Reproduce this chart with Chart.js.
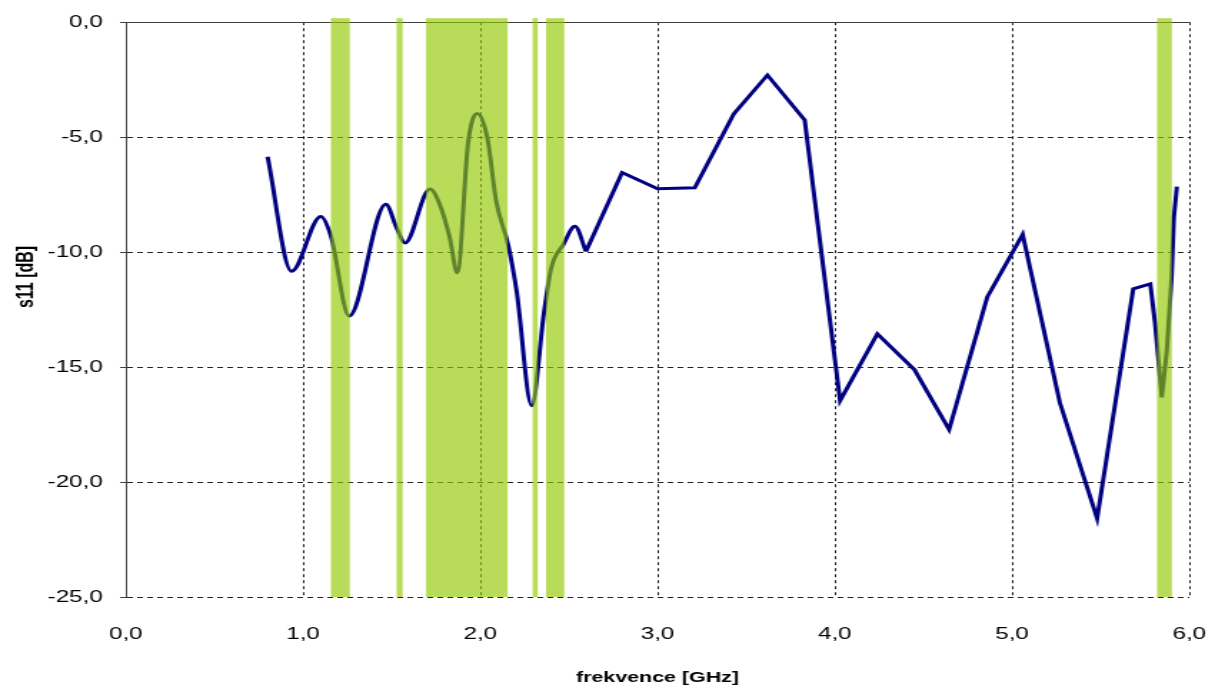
<!DOCTYPE html>
<html>
<head>
<meta charset="utf-8">
<title>s11</title>
<script src="https://cdn.jsdelivr.net/npm/chart.js@4.4.1/dist/chart.umd.min.js"></script>
<style>
  html, body { margin: 0; padding: 0; background: #fff; }
  #chart { display: block; }
</style>
</head>
<body>
<!-- the reference picture is stretched sideways, so the canvas is drawn narrow and widened by css -->
<canvas id="chart" width="850" height="693" style="width:1215px;height:693px"></canvas>
<script>
// smooth part of the measured curve (GHz / dB)
const smoothFreq = [0.80, 0.935, 1.10, 1.157, 1.26, 1.467, 1.528, 1.575, 1.716, 1.772, 1.828, 1.87, 1.932, 1.983, 2.04, 2.09, 2.157, 2.205, 2.29, 2.36, 2.40, 2.47, 2.534, 2.596];
const smoothS11 = [-5.85, -10.83, -8.45, -9.3, -12.78, -7.92, -8.95, -9.6, -7.25, -7.94, -9.39, -10.9, -5.2, -3.97, -5.05, -7.8, -9.68, -11.7, -16.68, -12.6, -10.7, -9.65, -8.88, -9.97];

// coarse part, straight segments
const coarseFreq = [2.596, 2.80, 3.00, 3.21, 3.43, 3.62, 3.83, 4.03, 4.24, 4.45, 4.645, 4.86, 5.06, 5.27, 5.48, 5.684, 5.78, 5.807, 5.845, 5.873, 5.90, 5.913, 5.93];
const coarseS11 = [-9.97, -6.54, -7.24, -7.2, -3.99, -2.30, -4.25, -16.46, -13.56, -15.12, -17.72, -11.96, -9.23, -16.55, -21.58, -11.6, -11.38, -13.1, -16.32, -14.3, -11.1, -8.5, -7.15];

// highlighted frequency bands (GHz)
const bandStart = [1.157, 1.528, 1.693, 2.295, 2.371, 5.818];
const bandEnd = [1.264, 1.562, 2.154, 2.324, 2.474, 5.902];

const xTitle = 'frekvence [GHz]';
const yTitle = 's11 [dB]';

const FONT = "'Liberation Sans', Arial, sans-serif";
const fmt = (v) => Number(v).toFixed(1).replace('.', ',');
const toXY = (xs, ys) => xs.map((x, i) => ({ x, y: ys[i] }));

// green bands over the curve
const bandsPlugin = {
  id: 'bands',
  afterDatasetsDraw(chart) {
    const { ctx, chartArea, scales: { x } } = chart;
    ctx.save();
    ctx.fillStyle = 'rgba(146, 201, 0, 0.65)';
    bandStart.forEach((s, i) => {
      const x1 = x.getPixelForValue(s);
      const x2 = x.getPixelForValue(bandEnd[i]);
      ctx.fillRect(x1, chartArea.top - 4, x2 - x1, chartArea.bottom - chartArea.top + 4);
    });
    ctx.restore();
  }
};

// y title sits a bit above the middle in the reference
const yTitlePlugin = {
  id: 'yTitle',
  afterDraw(chart) {
    const { ctx } = chart;
    ctx.save();
    ctx.translate(19, 277);
    ctx.rotate(-Math.PI / 2);
    ctx.font = `bold 16px ${FONT}`;
    ctx.fillStyle = '#000';
    ctx.textAlign = 'center';
    ctx.textBaseline = 'middle';
    ctx.fillText(yTitle, 0, 0);
    ctx.restore();
  }
};

const line = {
  borderColor: '#000080',
  borderWidth: 3,
  pointRadius: 0,
  fill: false
};

const canvas = document.getElementById('chart');
new Chart(canvas, {
  type: 'line',
  data: {
    datasets: [
      { ...line, data: toXY(smoothFreq, smoothS11), cubicInterpolationMode: 'monotone' },
      { ...line, data: toXY(coarseFreq, coarseS11), tension: 0 }
    ]
  },
  options: {
    responsive: false,
    animation: false,
    devicePixelRatio: 1,
    layout: { padding: { left: 0, right: 18, top: 20, bottom: 0 } },
    plugins: { legend: { display: false }, tooltip: { enabled: false } },
    scales: {
      x: {
        type: 'linear',
        min: 0,
        max: 6,
        afterFit: (s) => { s.height = 96; },
        ticks: {
          stepSize: 1,
          padding: 0,
          color: '#000',
          font: { family: FONT, size: 17 },
          callback: fmt
        },
        grid: {
          color: '#222',
          lineWidth: 1,
          // invisible tick marks just push the labels down
          drawTicks: true,
          tickLength: 27,
          tickColor: 'rgba(0,0,0,0)'
        },
        border: { display: false, dash: [3, 3] },
        title: {
          display: true,
          text: xTitle,
          color: '#000',
          font: { family: FONT, size: 15, weight: 'bold' },
          padding: { top: 0, bottom: 6 }
        }
      },
      y: {
        min: -25,
        max: 0,
        afterFit: (s) => { s.width = 88; },
        ticks: {
          stepSize: 5,
          padding: 12,
          color: '#000',
          font: { family: FONT, size: 17 },
          callback: fmt
        },
        grid: {
          color: (c) => (c.tick && c.tick.value === 0 ? '#404040' : '#222'),
          lineWidth: 1,
          drawTicks: true,
          tickLength: 4,
          tickColor: '#404040'
        },
        border: {
          display: true,
          color: '#404040',
          width: 1,
          dash: (c) => (c.tick && c.tick.value === 0 ? [] : [4, 3])
        }
      }
    }
  },
  plugins: [bandsPlugin, yTitlePlugin]
});
// keep the sideways stretch even if the library touched the style
canvas.style.width = '1215px';
canvas.style.height = '693px';
</script>
</body>
</html>
